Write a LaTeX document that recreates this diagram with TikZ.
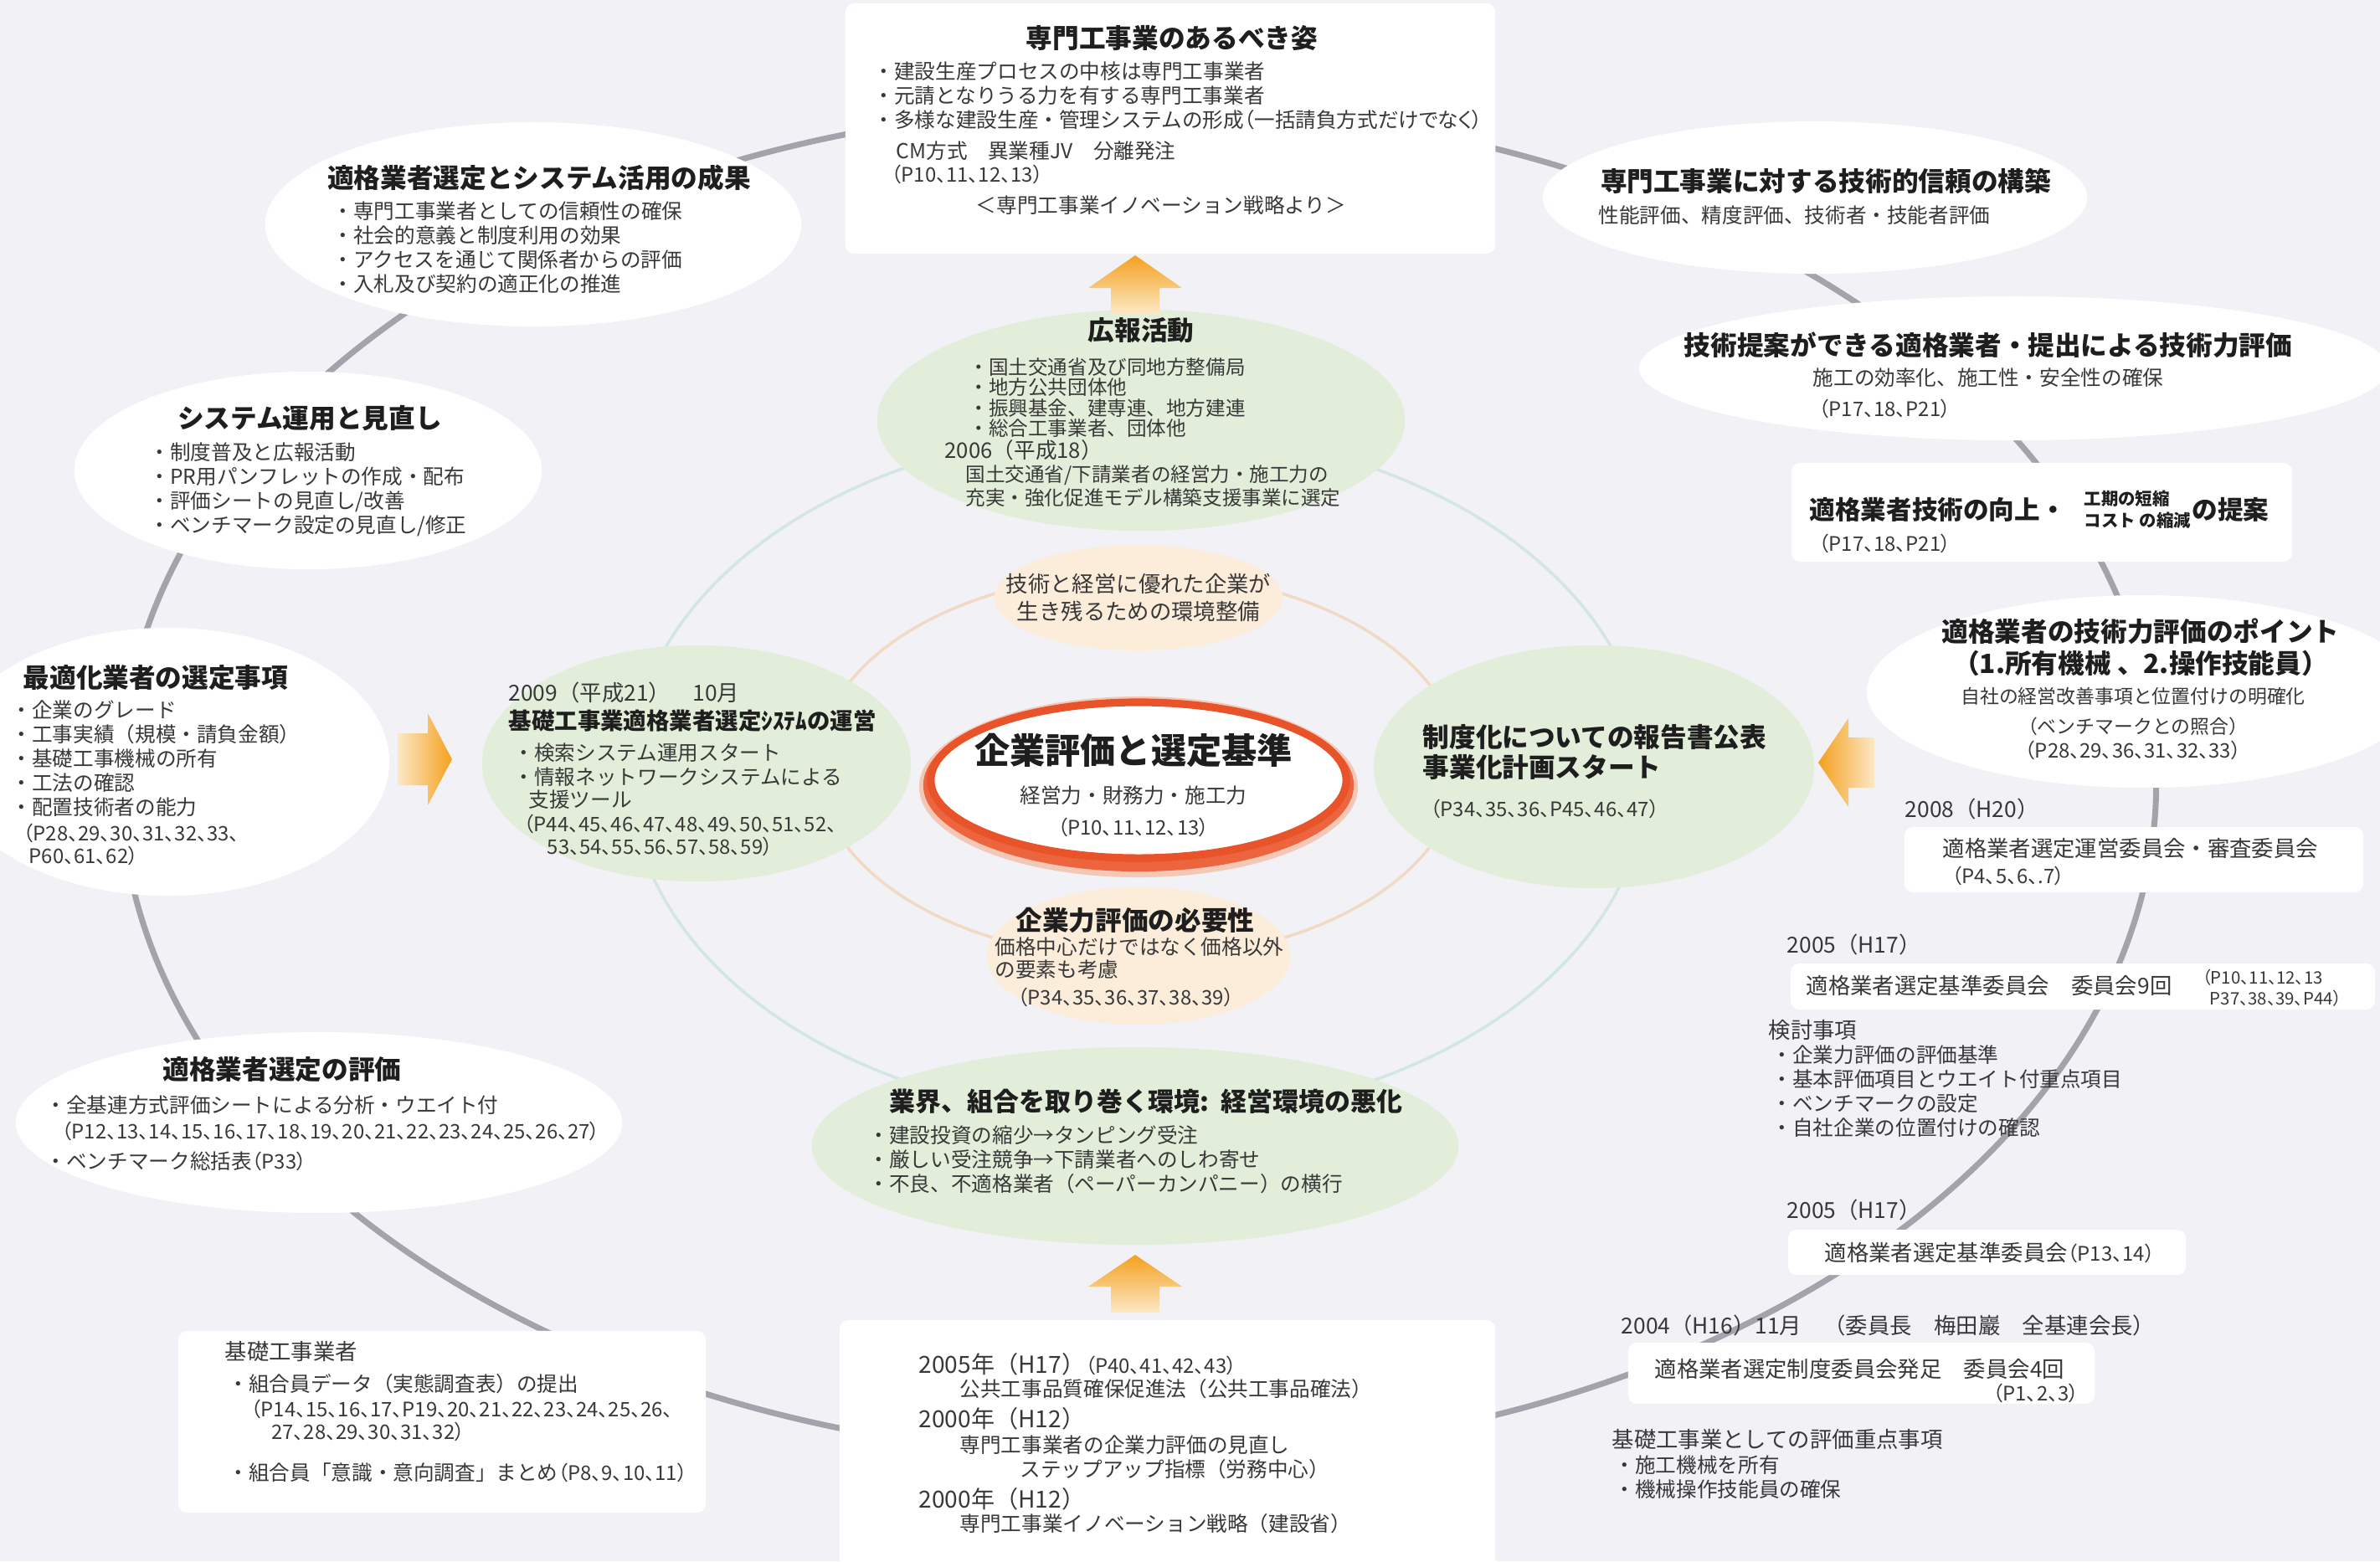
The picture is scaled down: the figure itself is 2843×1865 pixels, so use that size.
\documentclass[tikz,border=0pt]{standalone}
\usepackage{fontspec}
\setmainfont{Noto Sans CJK JP}
\newfontfamily\pfont{Noto Sans CJK JP}[RawFeature=+palt]
\usetikzlibrary{shapes.geometric}
\definecolor{bg}{HTML}{F1F1F6}
\definecolor{ringc}{HTML}{A3A3AB}
\definecolor{cyr}{HTML}{D3E6E4}
\definecolor{tanr}{HTML}{F1DAC4}
\definecolor{grn}{HTML}{E2EEDA}
\definecolor{pch}{HTML}{FCEDDB}
\definecolor{ink}{HTML}{1E1E1E}
\definecolor{txt}{HTML}{383838}
\definecolor{orA}{HTML}{F4A11E}
\definecolor{orB}{HTML}{FCE8C6}
\definecolor{redb}{HTML}{E9532A}
\definecolor{glow}{HTML}{F6AE8C}
\newcommand\pgref[1]{{\pfont\fontsize{6.8}{7.8}\selectfont #1}}
\tikzset{
 blob/.style={ellipse, inner sep=0pt, draw=none},
 wblob/.style={blob, fill=white},
 gblob/.style={blob, fill=grn},
 pblob/.style={blob, fill=pch},
 wbox/.style={rectangle, rounded corners=3pt, inner sep=0pt, fill=white, draw=none},
 body/.style={font=\fontsize{7}{8.25}\selectfont, text=txt, inner sep=0pt, align=left},
 yr/.style={font=\fontsize{7.5}{9}\selectfont, text=txt, inner sep=0pt, align=left},
 ttl/.style={font=\fontsize{9}{10.2}\selectfont\bfseries, text=ink, inner sep=0pt, align=left},
 pref/.style={font=\pfont\fontsize{6.8}{7.8}\selectfont, text=txt, inner sep=0pt, align=left},
 ringline/.style={draw=ringc, line width=2pt},
}
\begin{document}
\begin{tikzpicture}[x=0.01cm,y=-0.01cm]
\useasboundingbox (0,0) rectangle (2843,1865);
\clip (0,0) rectangle (2843,1865);
\fill[bg] (0,0) rectangle (2843,1865);

% rings
\draw[ringline] (1360,934) ellipse [x radius=12.15cm, y radius=8.07cm];
\draw[draw=cyr, line width=1pt] (1360,925) ellipse [x radius=6.07cm, y radius=4.12cm];
\draw[draw=tanr, line width=1pt] (1360,915) ellipse [x radius=3.83cm, y radius=2.30cm];

% ---------- outer white nodes ----------
\node[wbox, minimum width=7.76cm, minimum height=2.99cm] (topbox) at (1398,153.5) {};
\node[wblob, minimum width=6.40cm, minimum height=2.44cm] (etl) at (637,268) {};
\node[wblob, minimum width=6.50cm, minimum height=1.82cm] (etr) at (2168,236) {};
\node[wblob, minimum width=8.94cm, minimum height=1.72cm] (eprop) at (2405,440) {};
\node[wbox, minimum width=5.98cm, minimum height=1.18cm] (boximp) at (2439,612) {};
\node[wblob, minimum width=6.60cm, minimum height=2.30cm] (ept) at (2560,826) {};
\node[wbox, minimum width=5.48cm, minimum height=0.78cm] (box2008) at (2549,1027) {};
\node[wbox, minimum width=6.98cm, minimum height=0.55cm] (box2005a) at (2488,1178.5) {};
\node[wbox, minimum width=4.75cm, minimum height=0.54cm] (box2005b) at (2373.5,1496) {};
\node[wbox, minimum width=5.57cm, minimum height=0.73cm] (box2004) at (2223.5,1640.5) {};
\node[wbox, minimum width=7.83cm, minimum height=2.98cm] (boxbot) at (1394.5,1726) {};
\node[wbox, minimum width=6.30cm, minimum height=2.17cm] (boxbl) at (528,1698.5) {};
\node[wblob, minimum width=7.24cm, minimum height=2.16cm] (eeval) at (381,1341) {};
\node[wblob, minimum width=5.30cm, minimum height=3.20cm] (eopt) at (200,910) {};
\node[wblob, minimum width=5.58cm, minimum height=2.36cm] (esys) at (368,562) {};

% ---------- inner nodes ----------
\node[gblob, minimum width=6.30cm, minimum height=2.64cm] (epr) at (1363,502) {};
\node[pblob, minimum width=3.44cm, minimum height=1.26cm] (etk) at (1360,714) {};
\node[gblob, minimum width=5.12cm, minimum height=2.82cm] (e2009) at (832,912) {};
\node[gblob, minimum width=5.26cm, minimum height=2.90cm] (esei) at (1904,916) {};
\node[pblob, minimum width=3.62cm, minimum height=1.64cm] (eneed) at (1360,1142) {};
\node[gblob, minimum width=7.72cm, minimum height=2.36cm] (eenv) at (1356,1369) {};
\fill[glow, opacity=0.6] (1360,940) ellipse [x radius=2.62cm, y radius=1.08cm];
\fill[redb!80!glow] (1360,938) ellipse [x radius=2.57cm, y radius=1.03cm];
\node[blob, fill=white, draw=redb, line width=2.6pt, minimum width=4.96cm, minimum height=1.86cm] (emain) at (1360,932) {};

% ---------- arrows ----------
\coordinate (atop) at (1356,305);
\shade[top color=orA, bottom color=orB] (atop) -- ++(56,39) -- ++(-27,0) -- ++(0,31) -- ++(-58,0) -- ++(0,-31) -- ++(-27,0) -- cycle;
\coordinate (abot) at (1356,1499);
\shade[top color=orA, bottom color=orB] (abot) -- ++(56,38) -- ++(-27,0) -- ++(0,31) -- ++(-58,0) -- ++(0,-31) -- ++(-27,0) -- cycle;
\coordinate (aleft) at (540,907);
\shade[left color=orB, right color=orA] (aleft) -- ++(-29,-55) -- ++(0,24) -- ++(-36,0) -- ++(0,62) -- ++(36,0) -- ++(0,24) -- cycle;
\coordinate (aright) at (2172,911);
\shade[left color=orA, right color=orB] (aright) -- ++(36,-53) -- ++(0,23) -- ++(31,0) -- ++(0,60) -- ++(-31,0) -- ++(0,23) -- cycle;

% ---------- texts: top box ----------
\node[ttl] (ttop) at (1400,45) {専門工事業のあるべき姿};
\node[body, anchor=north west] (btop) at (1043,73) {・建設生産プロセスの中核は専門工事業者\\・元請となりうる力を有する専門工事業者\\・多様な建設生産・管理システムの形成{\pfont（一括請負方式だけでなく）}};
\node[body, anchor=west] (btop2) at (1070,180) {CM方式　異業種JV　分離発注};
\node[pref, anchor=west] (rtop) at (1064,208) {（P10、11、12、13）};
\node[body] (stop) at (1387,245) {＜専門工事業イノベーション戦略より＞};

% top-left
\node[ttl] (ttl1) at (644,212) {適格業者選定とシステム活用の成果};
\node[body, anchor=north west] (btl) at (397,240) {・専門工事業者としての信頼性の確保\\・社会的意義と制度利用の効果\\・アクセスを通じて関係者からの評価\\・入札及び契約の適正化の推進};

% top-right
\node[ttl] (ttr) at (2181,216) {専門工事業に対する技術的信頼の構築};
\node[body, anchor=west] (btr) at (1909,257) {性能評価、精度評価、技術者・技能者評価};

% proposal
\node[ttl] (tprop) at (2375,412) {技術提案ができる適格業者・提出による技術力評価};
\node[body] (bprop) at (2375,451) {施工の効率化、施工性・安全性の確保};
\node[pref, anchor=west] (rprop) at (2172,488) {（P17、18、P21）};

% improvement box
\node[ttl, font=\fontsize{8.7}{10}\selectfont\bfseries, anchor=west] (timp) at (2161,609) {適格業者技術の向上・};
\node[font=\fontsize{5.8}{7.3}\selectfont\bfseries, text=ink, inner sep=0pt, align=left, anchor=west] (simp) at (2489,609) {工期の短縮\\コスト の縮減};
\node[ttl, font=\fontsize{8.7}{10}\selectfont\bfseries, anchor=west] (timp2) at (2618,609) {の提案};
\node[pref, anchor=west] (rimp) at (2172,649) {（P17、18、P21）};

% point ellipse
\node[ttl] (tpt1) at (2557,754) {適格業者の技術力評価のポイント};
\node[ttl] (tpt2) at (2557,792) {（1.所有機械 、2.操作技能員）};
\node[body, font=\fontsize{6.5}{7.5}\selectfont] (bpt1) at (2548,832) {自社の経営改善事項と位置付けの明確化};
\node[body, font=\fontsize{6.5}{7.5}\selectfont] (bpt2) at (2548,868) {（ベンチマークとの照合）};
\node[pref] (rpt) at (2548,896) {（P28、29、36、31、32、33）};

% 2008
\node[yr, anchor=west] (y2008) at (2275,966) {2008（H20）};
\node[yr, anchor=west] (t2008) at (2320,1013) {適格業者選定運営委員会・審査委員会};
\node[pref, anchor=west] (r2008) at (2331,1046) {（P4、5、6、.7）};

% 2005 a
\node[yr, anchor=west] (y2005a) at (2134,1128) {2005（H17）};
\node[yr, anchor=west] (t2005a) at (2157,1177) {適格業者選定基準委員会　委員会9回};
\node[font=\pfont\fontsize{5.8}{7}\selectfont, text=txt, inner sep=0pt, align=left, anchor=west] (r2005a) at (2630,1180) {（P10、11、12、13\\\ \ P37、38、39、P44）};
\node[yr, anchor=west] (tk0) at (2112,1231) {検討事項};
\node[body, anchor=north west] (bk) at (2116,1248) {・企業力評価の評価基準\\・基本評価項目とウエイト付重点項目\\・ベンチマークの設定\\・自社企業の位置付けの確認};

% 2005 b
\node[yr, anchor=west] (y2005b) at (2134,1445) {2005（H17）};
\node[yr, anchor=west] (t2005b) at (2179,1496) {適格業者選定基準委員会\pgref{（P13、14）}};

% 2004
\node[yr, anchor=west] (y2004) at (1936,1583) {2004（H16）11月　（委員長　梅田巖　全基連会長）};
\node[yr, anchor=west] (t2004) at (1976,1635) {適格業者選定制度委員会発足　委員会4回};
\node[pref, anchor=west] (r2004) at (2380,1664) {（P1、2、3）};
\node[yr, anchor=west] (tkj) at (1925,1719) {基礎工事業としての評価重点事項};
\node[body, anchor=north west] (bkj) at (1928,1738) {・施工機械を所有\\・機械操作技能員の確保};

% bottom box
\node[font=\fontsize{8}{9}\selectfont, text=txt, inner sep=0pt, anchor=west] (yb1) at (1097,1630) {2005年（H17）\pgref{（P40、41、42、43）}};
\node[body, anchor=west] (bb1) at (1146,1659) {公共工事品質確保促進法（公共工事品確法）};
\node[font=\fontsize{8}{9}\selectfont, text=txt, inner sep=0pt, anchor=west] (yb2) at (1097,1695) {2000年（H12）};
\node[body, anchor=west] (bb2) at (1146,1726) {専門工事業者の企業力評価の見直し};
\node[body, anchor=west] (bb3) at (1218,1755) {ステップアップ指標（労務中心）};
\node[font=\fontsize{8}{9}\selectfont, text=txt, inner sep=0pt, anchor=west] (yb3) at (1097,1791) {2000年（H12）};
\node[body, anchor=west] (bb4) at (1146,1820) {専門工事業イノベーション戦略（建設省）};

% bottom-left box
\node[yr, anchor=west] (tbl) at (268,1614) {基礎工事業者};
\node[body, anchor=west] (bbl1) at (272,1653) {・組合員データ（実態調査表）の提出};
\node[pref, anchor=north west] (rbl1) at (299,1671) {（P14、15、16、17、P19、20、21、22、23、24、25、26、\\\hspace*{7pt}27、28、29、30、31、32）};
\node[body, anchor=west] (bbl2) at (272,1759) {・組合員「意識・意向調査」まとめ\pgref{（P8、9、10、11）}};

% evaluation ellipse
\node[ttl] (teval) at (337,1278) {適格業者選定の評価};
\node[body, anchor=west] (beval1) at (54,1320) {・全基連方式評価シートによる分析・ウエイト付};
\node[pref, anchor=west] (reval) at (73,1351) {（P12、13、14、15、16、17、18、19、20、21、22、23、24、25、26、27）};
\node[body, anchor=west] (beval2) at (54,1387) {・ベンチマーク総括表\pgref{（P33）}};

% optimal ellipse
\node[ttl, anchor=west] (topt) at (27,810) {最適化業者の選定事項};
\node[body, anchor=north west] (bopt) at (13,836) {・企業のグレード\\・工事実績（規模・請負金額）\\・基礎工事機械の所有\\・工法の確認\\・配置技術者の能力};
\node[pref, anchor=north west] (ropt) at (27,983) {（P28、29、30、31、32、33、\\\hspace*{2pt}P60、61、62）};

% system ellipse
\node[ttl] (tsys) at (370,499) {システム運用と見直し};
\node[body, anchor=north west] (bsys) at (178,528) {・制度普及と広報活動\\・PR用パンフレットの作成・配布\\・評価シートの見直し/改善\\・ベンチマーク設定の見直し/修正};

% PR ellipse
\node[ttl] (tpr) at (1363,395) {広報活動};
\node[body, font=\fontsize{6.7}{6.9}\selectfont, anchor=north west] (bpr) at (1157,427) {・国土交通省及び同地方整備局\\・地方公共団体他\\・振興基金、建専連、地方建連\\・総合工事業者、団体他};
\node[font=\fontsize{7.3}{8}\selectfont, text=txt, inner sep=0pt, anchor=west] (ypr) at (1128,538) {2006（平成18）};
\node[body, font=\fontsize{6.7}{6.9}\selectfont, anchor=north west] (bpr2) at (1153,555) {国土交通省/下請業者の経営力・施工力の\\充実・強化促進モデル構築支援事業に選定};

% tk ellipse
\node[body, font=\fontsize{7.5}{9.4}\selectfont, align=center] (btk) at (1360,714) {技術と経営に優れた企業が\\生き残るための環境整備};

% main
\node[font=\fontsize{12}{14}\selectfont\bfseries, text=ink, inner sep=0pt] (tmain) at (1354,896) {企業評価と選定基準};
\node[body] (bmain) at (1354,950) {経営力・財務力・施工力};
\node[pref] (rmain) at (1354,988) {（P10、11、12、13）};

% 2009 ellipse
\node[yr, anchor=west] (y2009) at (607,827) {2009（平成21）　10月};
\node[ttl, font=\fontsize{7.8}{9}\selectfont\bfseries, anchor=west] (t2009) at (607,861) {基礎工事業適格業者選定ｼｽﾃﾑの運営};
\node[body, anchor=north west] (b2009) at (613,887) {・検索システム運用スタート\\・情報ネットワークシステムによる};
\node[body, anchor=west] (b2009b) at (631,955) {支援ツール};
\node[pref, anchor=north west] (r2009) at (625,972) {（P44、45、46、47、48、49、50、51、52、\\\hspace*{8pt}53、54、55、56、57、58、59）};

% seido ellipse
\node[ttl, font=\fontsize{9}{10.2}\selectfont\bfseries, anchor=north west] (tsei) at (1699,865) {制度化についての報告書公表\\事業化計画スタート};
\node[pref, anchor=west] (rsei) at (1708,966) {（P34、35、36、P45、46、47）};

% need ellipse
\node[ttl] (tneed) at (1356,1099) {企業力評価の必要性};
\node[body, font=\fontsize{7}{7.7}\selectfont, anchor=north west] (bneed) at (1188,1119) {価格中心だけではなく価格以外\\の要素も考慮};
\node[pref, anchor=west] (rneed) at (1215,1191) {（P34、35、36、37、38、39）};

% environment ellipse
\node[ttl, font=\fontsize{8.8}{10}\selectfont\bfseries] (tenv) at (1369,1316) {業界、組合を取り巻く環境:\ \ 経営環境の悪化};
\node[body, anchor=north west] (benv) at (1037,1344) {・建設投資の縮少→タンピング受注\\・厳しい受注競争→下請業者へのしわ寄せ\\・不良、不適格業者（ペーパーカンパニー）の横行};
\end{tikzpicture}
\end{document}
